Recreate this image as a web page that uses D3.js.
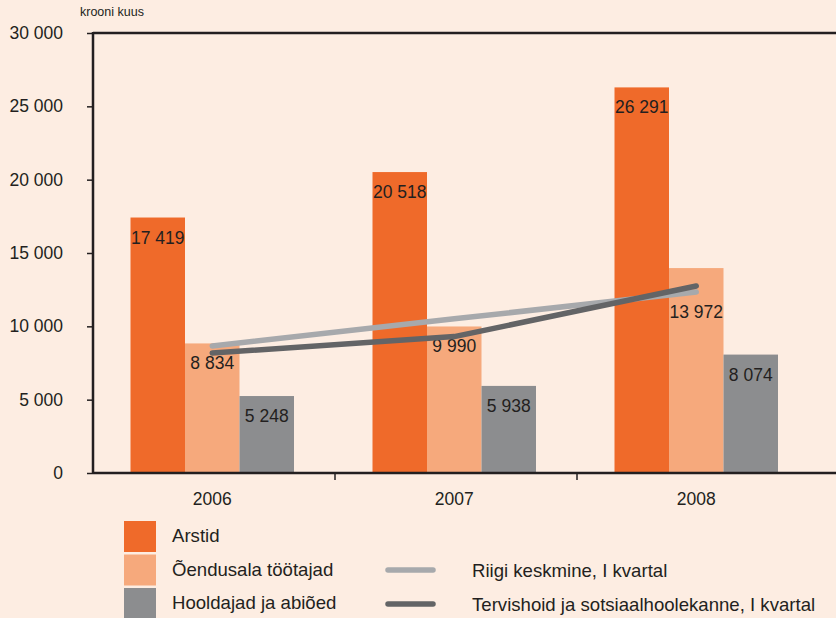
<!DOCTYPE html>
<html>
<head>
<meta charset="utf-8">
<script src="https://cdn.jsdelivr.net/npm/d3@7"></script>
<style>
  body { margin: 0; background: #fdede2; }
  svg { display: block; font-family: "Liberation Sans", Arial, sans-serif; }
</style>
</head>
<body>
<div class="chart"></div>
<script>
// data
var years = ["2006", "2007", "2008"];
var barSeries = ["Arstid", "Õendusala töötajad", "Hooldajad ja abiõed"];
var arstid = [17419, 20518, 26291];
var oendus = [8834, 9990, 13972];
var hooldajad = [5248, 5938, 8074];
var lineSeries = ["Riigi keskmine, I kvartal", "Tervishoid ja sotsiaalhoolekanne, I kvartal"];
var riigi = [8660, 10510, 12340];
var tervis = [8180, 9300, 12750];
var yTicks = [0, 5000, 10000, 15000, 20000, 25000, 30000];

var barColors = ["#ef6a2a", "#f6a97c", "#8c8d8f"];
var lineColors = ["#a7a9ac", "#636466"];
var ink = "#231f20";

const width = 836, height = 618;
const mLeft = 93, mTop = 33, mBottom = 473, mRight = 836;

var svg = d3.select(".chart").append("svg")
  .attr("width", width)
  .attr("height", height);

svg.append("rect").attr("width", width).attr("height", height).attr("fill", "#fdede2");

var y = d3.scaleLinear().domain([0, 30000]).range([mBottom, mTop]);
var x0 = d3.scaleBand().domain(years).range([mLeft, 819]);
var x1 = d3.scaleBand().domain(barSeries).range([37.5, 201]);
var groupMid = x1.range()[0] + (x1.range()[1] - x1.range()[0]) / 2;

function spaced(v) { return d3.format(",")(v).replace(/,/g, " "); }

// bars
var barData = [arstid, oendus, hooldajad];
var groups = svg.append("g").selectAll("g")
  .data(years)
  .enter().append("g")
  .attr("transform", d => "translate(" + x0(d) + ",0)");

var cells = (d, i) => barSeries.map((s, j) => ({ s: s, j: j, i: i, v: barData[j][i] }));

groups.selectAll("rect")
  .data(cells)
  .enter().append("rect")
  .attr("x", d => x1(d.s))
  .attr("width", x1.bandwidth())
  .attr("y", d => y(d.v))
  .attr("height", d => mBottom - y(d.v))
  .attr("fill", d => barColors[d.j]);

// lines
var lineX = (d, i) => x0(years[i]) + groupMid;
var line = d3.line()
  .x(lineX)
  .y(d => y(d));

svg.selectAll(".ln")
  .data([riigi, tervis])
  .enter().append("path")
  .attr("class", "ln")
  .attr("d", line)
  .attr("fill", "none")
  .attr("stroke", (d, i) => lineColors[i])
  .attr("stroke-width", 5.5)
  .attr("stroke-linecap", "round")
  .attr("stroke-linejoin", "round");

// y of a line series at an x position (for moving labels off the lines)
function lineYAt(series, px) {
  var xs = years.map((c, i) => lineX(null, i));
  px = Math.max(xs[0], Math.min(xs[xs.length - 1], px));
  for (var k = 0; k < xs.length - 1; k++) {
    if (px >= xs[k] && px <= xs[k + 1]) {
      var t = (px - xs[k]) / (xs[k + 1] - xs[k]);
      return y(series[k] + t * (series[k + 1] - series[k]));
    }
  }
  return null;
}

// value labels
groups.selectAll("text")
  .data(cells)
  .enter().append("text")
  .attr("x", d => x1(d.s) + x1.bandwidth() / 2)
  .attr("y", function(d) {
    var top = y(d.v);
    var cx = x0(years[d.i]) + x1(d.s) + x1.bandwidth() / 2;
    var lowest = d3.max([riigi, tervis].map(s => lineYAt(s, cx)));
    if (lowest - top > 20 && lowest - top < 40) return lowest + 26;
    return top + 26;
  })
  .attr("text-anchor", "middle")
  .attr("font-size", 17.5)
  .attr("fill", ink)
  .text(d => spaced(d.v));

// axes
var yAxis = svg.append("g")
  .attr("transform", "translate(" + mLeft + ",0)")
  .call(d3.axisLeft(y).tickValues(yTicks).tickSize(6).tickPadding(24)
    .tickFormat(d => spaced(d)));
yAxis.select(".domain").remove();
yAxis.selectAll("line").attr("stroke", ink).attr("stroke-width", 1.5);
yAxis.selectAll("text").attr("font-size", 17.5).attr("fill", ink)
  .attr("font-family", "Liberation Sans, Arial, sans-serif");

var xAxis = svg.append("g")
  .attr("transform", "translate(0," + mBottom + ")")
  .call(d3.axisBottom(x0).tickSize(0).tickPadding(20));
xAxis.select(".domain").remove();
xAxis.selectAll(".tick").attr("transform", d => "translate(" + (x0(d) + groupMid) + ",0)");
xAxis.selectAll("text").attr("font-size", 17.5).attr("fill", ink)
  .attr("font-family", "Liberation Sans, Arial, sans-serif");

// category separators below axis
svg.selectAll(".sep")
  .data(years.slice(1))
  .enter().append("line")
  .attr("x1", d => x0(d)).attr("x2", d => x0(d))
  .attr("y1", mBottom).attr("y2", mBottom + 7)
  .attr("stroke", ink).attr("stroke-width", 1.5);

// frame
svg.append("line").attr("x1", mLeft).attr("x2", mRight).attr("y1", mTop).attr("y2", mTop)
  .attr("stroke", ink).attr("stroke-width", 2.5);
svg.append("line").attr("x1", mLeft).attr("x2", mRight).attr("y1", mBottom).attr("y2", mBottom)
  .attr("stroke", ink).attr("stroke-width", 2.5);
svg.append("line").attr("x1", mLeft).attr("x2", mLeft).attr("y1", mTop - 1).attr("y2", mBottom + 1)
  .attr("stroke", ink).attr("stroke-width", 2.5);

svg.append("text")
  .attr("x", 80).attr("y", 16)
  .attr("font-size", 12.5)
  .attr("fill", ink)
  .text("krooni kuus");

// legend
var legend = svg.append("g");
var legBar = legend.selectAll(".lb")
  .data(barSeries)
  .enter().append("g")
  .attr("transform", (d, i) => "translate(124," + (521 + i * 33.5) + ")");
legBar.append("rect")
  .attr("width", 32).attr("height", 31)
  .attr("fill", (d, i) => barColors[i]);
legBar.append("text")
  .attr("x", 48).attr("y", 21)
  .attr("font-size", 18.6)
  .attr("fill", ink)
  .text(d => d);

var legLine = legend.selectAll(".ll")
  .data(lineSeries)
  .enter().append("g")
  .attr("transform", (d, i) => "translate(388," + (570 + i * 34) + ")");
legLine.append("line")
  .attr("x1", 0).attr("x2", 45)
  .attr("stroke", (d, i) => lineColors[i])
  .attr("stroke-width", 5.5)
  .attr("stroke-linecap", "round");
legLine.append("text")
  .attr("x", 84).attr("y", 6.5)
  .attr("font-size", 18.6)
  .attr("fill", ink)
  .text(d => d);
</script>
</body>
</html>
